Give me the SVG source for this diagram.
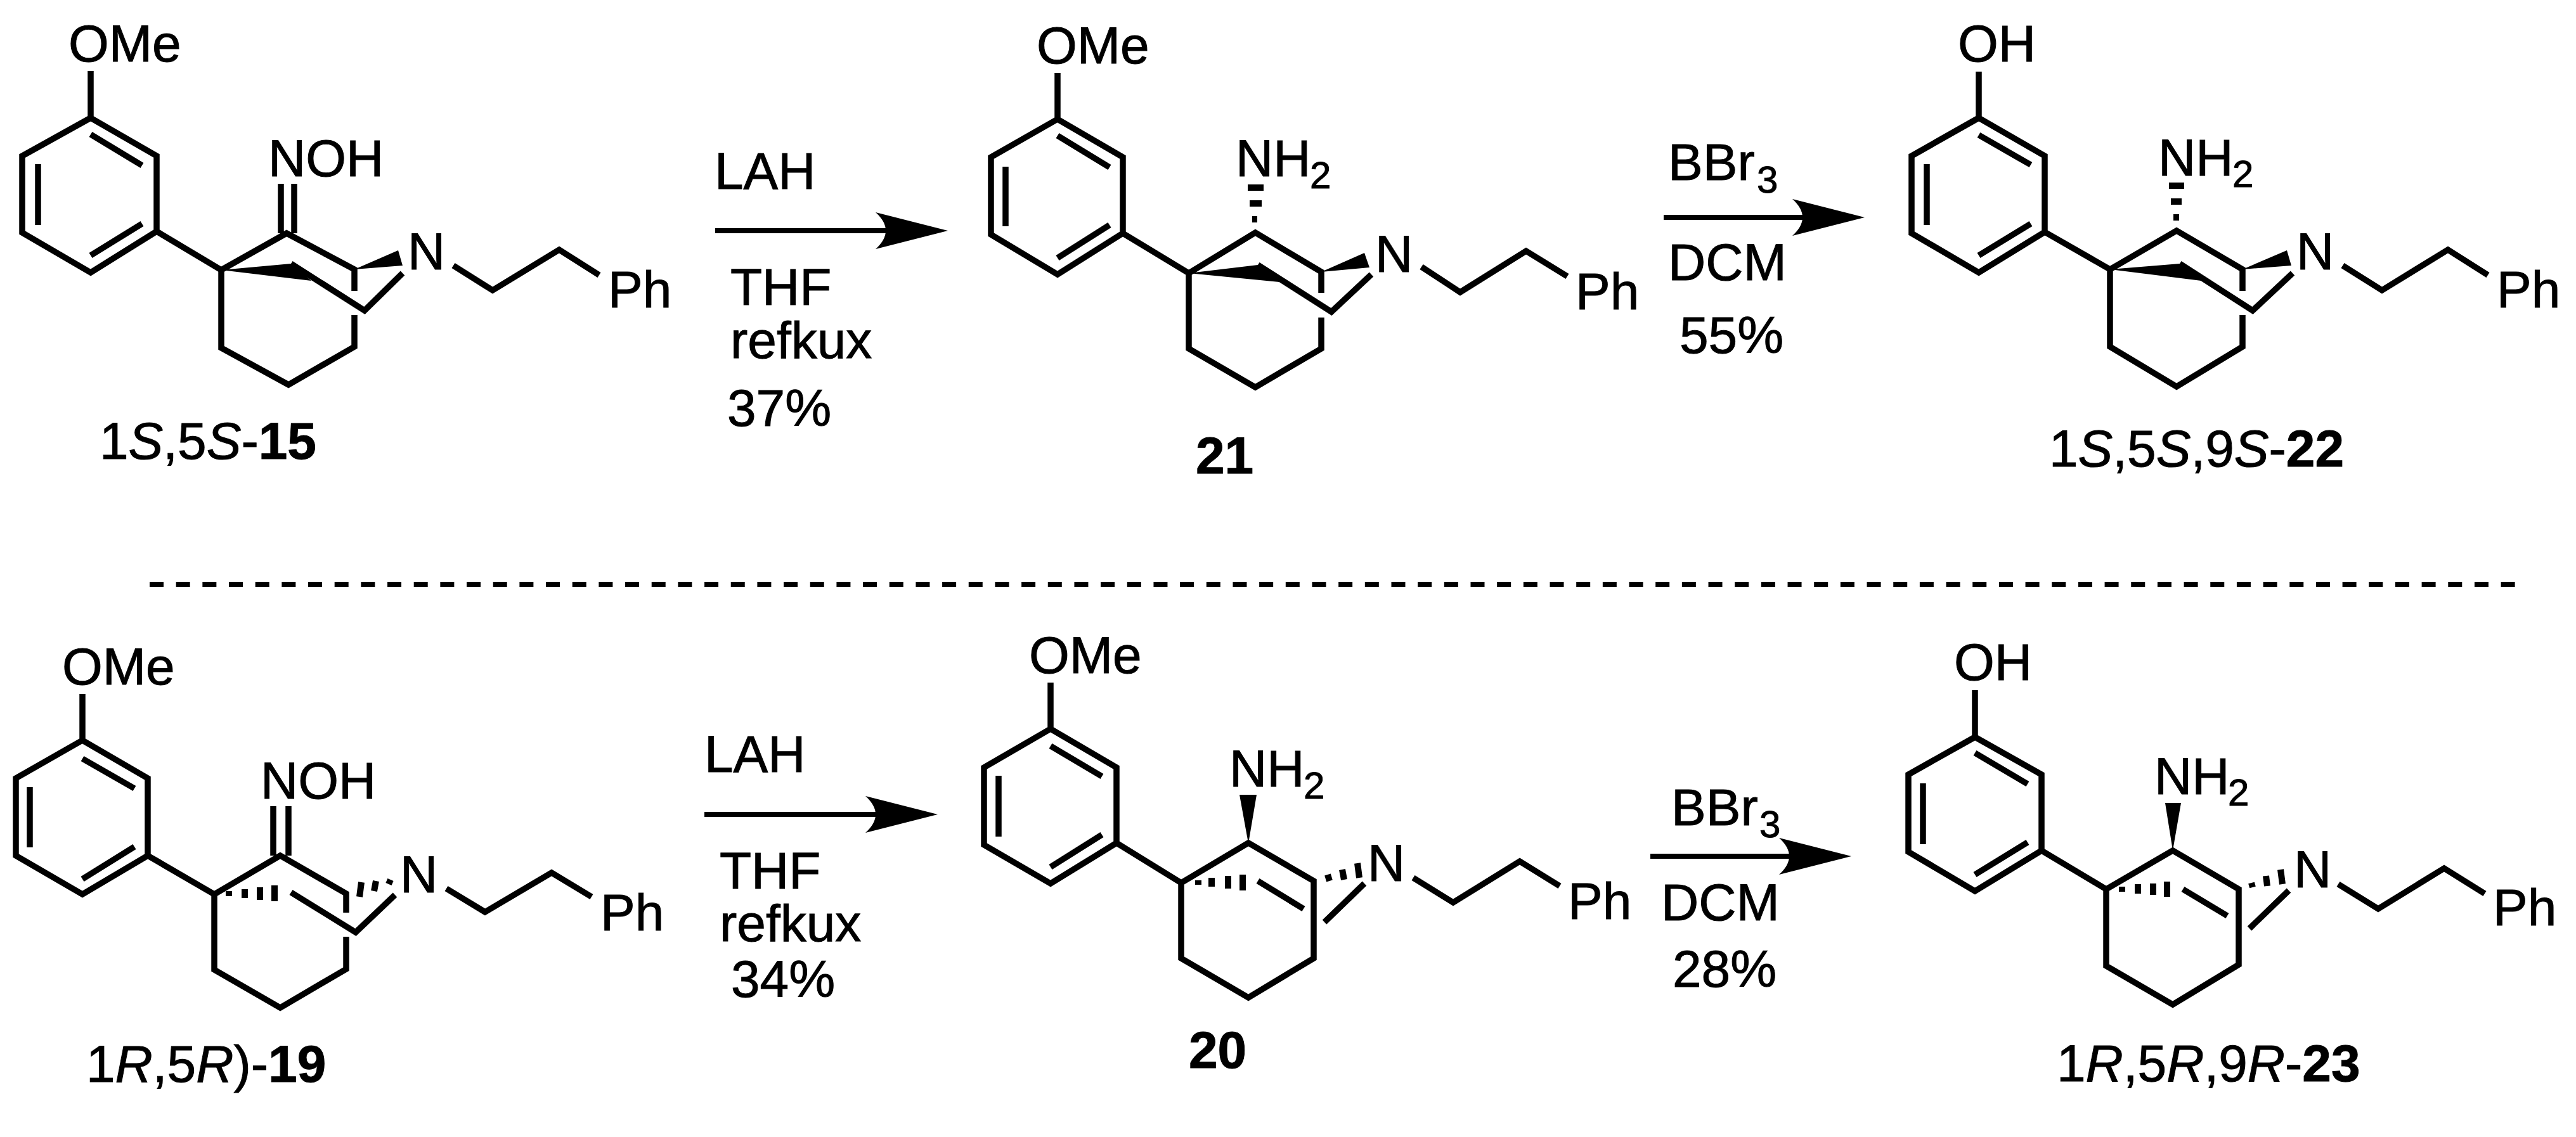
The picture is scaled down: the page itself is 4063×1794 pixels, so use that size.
<svg xmlns="http://www.w3.org/2000/svg" width="4063" height="1794" viewBox="0 0 4063 1794">
<style>
text{font-family:"Liberation Sans",Arial,sans-serif;font-size:82px;fill:#000;stroke:#000;stroke-width:1}
.sub{font-size:60px}
.i{font-style:italic}
.b{font-weight:bold}
.bond{fill:none;stroke:#000;stroke-width:9.5;stroke-linejoin:miter;stroke-linecap:butt}
.hash{fill:none;stroke:#000;stroke-width:10}
.wedge{fill:#000;stroke:none}
.arrow{fill:none;stroke:#000;stroke-width:8;marker-end:url(#head)}
.rule{fill:none;stroke:#000;stroke-width:8;stroke-dasharray:22 19.67}
</style>
<defs>
<marker id="head" markerUnits="userSpaceOnUse" markerWidth="114" markerHeight="58" viewBox="0 0 114 58" refX="24" refY="29" orient="auto">
<path d="M0 0L114 29L0 58Q32 29 0 0Z" fill="#000"/>
</marker>
</defs>
<rect width="4063" height="1794" fill="#fff"/>

<g id="connectors">
<path class="arrow" d="M1128 364H1405"/>
<path class="arrow" d="M2624 343H2851"/>
<path class="arrow" d="M1111 1285H1389"/>
<path class="arrow" d="M2603 1351H2830"/>
<path class="rule" d="M236 922H3967"/>
</g>

<g id="compound-15">
<path class="bond" d="M143 112V186L247 246V365L143 430L35 367V246L143 186M143 212L224 261M60 259V355M224 353L143 403M247 365L349 426L452 368L559 425V459M559 497V547L455 607L349 549V426M443 290V368M464 290V368M459 416L575 490L635 431M715 419L777 458L882 394L945 434"/>
<path class="wedge" d="M349 426L459 416L491 443ZM559 425L628 395L635 419Z"/>
<text x="108" y="97">OMe</text><text x="423" y="278">NOH</text><text x="643" y="425">N</text><text x="959" y="485">Ph</text>
<text x="157" y="724">1<tspan class="i">S</tspan>,5<tspan class="i">S</tspan>-<tspan class="b">15</tspan></text>
</g>

<g id="reagents-1">
<text x="1127" y="298">LAH</text><text x="1152" y="481">THF</text><text x="1152" y="565">refkux</text><text x="1147" y="672">37%</text>
</g>

<g id="compound-21">
<path class="bond" d="M1668 115V188L1771 248V368L1668 433L1563 370V248L1668 188M1668 214L1750 264M1586 263V357M1750 355L1668 407M1771 368L1875 431L1980 367L2084 429V462M2084 501V550L1980 611L1875 550V431M1984 418L2100 492L2163 433M2242 421L2303 461L2407 396L2472 436"/>
<path class="wedge" d="M1875 431L1984 418L2018 445ZM2084 429L2152 399L2160 422Z"/>
<path class="hash" d="M1968 296H1993M1971 321H1990M1975 346H1983"/>
<text x="1635" y="100">OMe</text><text x="1949" y="278">NH<tspan class="sub" x="2066" y="297">2</tspan></text><text x="2169" y="429">N</text><text x="2485" y="488">Ph</text>
<text class="b" x="1886" y="747">21</text>
</g>

<g id="reagents-2">
<text x="2631" y="284">BBr<tspan class="sub" x="2771" y="304">3</tspan></text><text x="2631" y="442">DCM</text><text x="2649" y="557">55%</text>
</g>

<g id="compound-22">
<path class="bond" d="M3121 113V186L3225 246V366L3121 430L3015 368V246L3121 186M3121 213L3203 260M3039 259V355M3203 353L3121 403M3225 366L3328 425L3433 364L3537 425V459M3537 497V547L3433 610L3328 547V425M3438 416L3553 490L3616 431M3695 419L3757 458L3861 394L3924 434"/>
<path class="wedge" d="M3328 425L3438 416L3472 443ZM3537 425L3607 395L3614 419Z"/>
<path class="hash" d="M3421 293H3445M3424 318H3441M3428 343H3437"/>
<text x="3088" y="97">OH</text><text x="3404" y="277">NH<tspan class="sub" x="3521" y="295">2</tspan></text><text x="3622" y="425">N</text><text x="3938" y="485">Ph</text>
<text x="3232" y="736">1<tspan class="i">S</tspan>,5<tspan class="i">S</tspan>,9<tspan class="i">S</tspan>-<tspan class="b">22</tspan></text>
</g>

<g id="compound-19">
<path class="bond" d="M130 1095V1168L233 1228V1350L130 1411L25 1350V1228L130 1168M130 1197L212 1244M47 1242V1337M212 1336L130 1387M233 1350L338 1411L442 1350L546 1410V1440M546 1478V1529L442 1590L338 1530V1411M431 1272V1350M455 1272V1350M459 1408L561 1471L623 1412M704 1402L765 1439L870 1377L933 1415"/>
<path class="hash" d="M361 1406V1414M386 1403V1417M410 1400V1420M433 1397V1422M567 1415L570 1392M590 1406L593 1390M613 1395L616 1388"/>
<text x="98" y="1080">OMe</text><text x="411" y="1260">NOH</text><text x="631" y="1408">N</text><text x="947" y="1468">Ph</text>
<text x="136" y="1707">1<tspan class="i">R</tspan>,5<tspan class="i">R</tspan>)-<tspan class="b">19</tspan></text>
</g>

<g id="reagents-3">
<text x="1111" y="1218">LAH</text><text x="1135" y="1402">THF</text><text x="1135" y="1485">refkux</text><text x="1153" y="1573">34%</text>
</g>

<g id="compound-20">
<path class="bond" d="M1657 1077V1150L1761 1211V1330L1657 1394L1552 1333V1211L1657 1150M1657 1177L1738 1225M1575 1224V1320M1738 1317L1657 1368M1761 1330L1863 1393L1969 1330L2072 1390V1512L1969 1574L1863 1512V1393M1984 1390L2056 1434M2089 1455L2152 1394M2229 1385L2292 1424L2397 1359L2460 1398"/>
<path class="wedge" d="M1969 1331L1955 1254H1982Z"/>
<path class="hash" d="M1890 1389V1396M1911 1385V1399M1937 1382V1402M1960 1380V1405M2097 1390L2094 1380M2120 1388L2117 1372M2144 1385L2141 1362"/>
<text x="1623" y="1062">OMe</text><text x="1939" y="1241">NH<tspan class="sub" x="2056" y="1260">2</tspan></text><text x="2157" y="1390">N</text><text x="2473" y="1450">Ph</text>
<text class="b" x="1875" y="1685">20</text>
</g>

<g id="reagents-4">
<text x="2636" y="1302">BBr<tspan class="sub" x="2775" y="1321">3</tspan></text><text x="2620" y="1452">DCM</text><text x="2638" y="1557">28%</text>
</g>

<g id="compound-23">
<path class="bond" d="M3115 1089V1163L3220 1222V1342L3115 1406L3010 1344V1222L3115 1163M3115 1188L3198 1237M3033 1236V1332M3198 1329L3115 1380M3220 1342L3322 1403L3427 1342L3531 1403V1522L3427 1585L3322 1524V1403M3443 1403L3513 1445M3548 1465L3610 1405M3688 1395L3751 1434L3855 1370L3919 1410"/>
<path class="wedge" d="M3427 1342L3415 1267H3440Z"/>
<path class="hash" d="M3347 1399V1407M3372 1395V1410M3396 1394V1412M3418 1391V1415M3553 1400L3551 1393M3576 1398L3574 1382M3600 1395L3597 1372"/>
<text x="3082" y="1073">OH</text><text x="3398" y="1253">NH<tspan class="sub" x="3514" y="1271">2</tspan></text><text x="3618" y="1400">N</text><text x="3932" y="1460">Ph</text>
<text x="3244" y="1706">1<tspan class="i">R</tspan>,5<tspan class="i">R</tspan>,9<tspan class="i">R</tspan>-<tspan class="b">23</tspan></text>
</g>
</svg>
